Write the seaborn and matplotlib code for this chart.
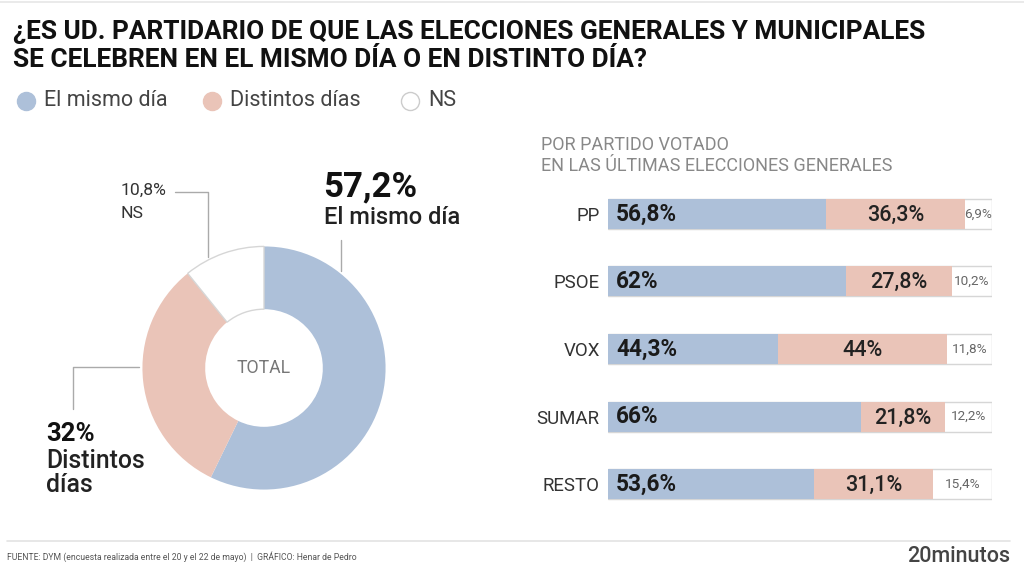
import numpy as np
import seaborn as sns
import matplotlib.pyplot as plt

# datos
total_labels = ["El mismo día", "Distintos días", "NS"]
total_values = [57.2, 32.0, 10.8]

partidos = ["PP", "PSOE", "VOX", "SUMAR", "RESTO"]
mismo_dia = [56.8, 62.0, 44.3, 66.0, 53.6]
distintos = [36.3, 27.8, 44.0, 21.8, 31.1]
ns = [6.9, 10.2, 11.8, 12.2, 15.4]

mismo_txt = ["56,8%", "62%", "44,3%", "66%", "53,6%"]
distintos_txt = ["36,3%", "27,8%", "44%", "21,8%", "31,1%"]
ns_txt = ["6,9%", "10,2%", "11,8%", "12,2%", "15,4%"]

AZUL = "#adc0d9"
ROSA = "#eac4b8"
GRIS_BORDE = "#d6d6d6"

sns.set_theme(style="white")
plt.rcParams["font.family"] = ["Roboto", "DejaVu Sans"]

W, H = 1024, 576
fig = plt.figure(figsize=(W / 100, H / 100), dpi=100)
fig.patch.set_facecolor("white")


def px(x, y):
    return x / W, 1 - y / H


def txt(x, y, s, **kw):
    fx, fy = px(x, y)
    fig.text(fx, fy, s, **kw)


def linea(xs, ys, color="#aaaaaa", lw=1.0):
    fig.add_artist(plt.Line2D([x / W for x in xs], [1 - y / H for y in ys],
                              color=color, lw=lw, transform=fig.transFigure))


# titulo
txt(13, 32, "¿ES UD. PARTIDARIO DE QUE LAS ELECCIONES GENERALES Y MUNICIPALES",
    fontsize=18.9, fontweight="bold", color="#111111", va="center")
txt(13, 60, "SE CELEBREN EN EL MISMO DÍA O EN DISTINTO DÍA?",
    fontsize=18.9, fontweight="bold", color="#111111", va="center")

# leyenda
leg = [(26, AZUL, "none", "El mismo día"), (212, ROSA, "none", "Distintos días"),
       (410, "white", "#cccccc", "NS")]
for x, c, ec, lab in leg:
    fx, fy = px(x, 101)
    fig.add_artist(plt.Line2D([fx], [fy], marker="o", markersize=13, color=c,
                              markeredgecolor=ec if ec != "none" else c,
                              markeredgewidth=1, transform=fig.transFigure))
    txt(x + 18, 101, lab, fontsize=15.5, color="#444444", va="center")

# donut
ax_pie = fig.add_axes([140 / W, (H - 492) / H, 248 / W, 248 / H])
wedges, _ = ax_pie.pie(total_values, colors=[AZUL, ROSA, "white"], startangle=90,
                       counterclock=False, radius=1,
                       wedgeprops=dict(width=1 - 60 / 124, edgecolor="none"))
wedges[2].set_edgecolor(GRIS_BORDE)
wedges[2].set_linewidth(1)
ax_pie.set_xlim(-1.02, 1.02)
ax_pie.set_ylim(-1.02, 1.02)
ax_pie.set_aspect("auto")
ax_pie.axis("off")
ax_pie.text(0, 0, "TOTAL", ha="center", va="center", fontsize=12.7, color="#777777")

# etiquetas donut
txt(323, 187, "57,2%", fontsize=25, fontweight="bold", color="#111111", va="center")
txt(324, 218, "El mismo día", fontsize=17, fontweight="medium", color="#222222", va="center")
linea([341, 341], [240, 271])

txt(121, 190, "10,8%", fontsize=12.6, color="#333333", va="center")
txt(121, 213, "NS", fontsize=12.6, color="#333333", va="center")
linea([175, 208, 208], [192, 192, 257])

txt(46, 434, "32%", fontsize=18.5, fontweight="bold", color="#111111", va="center")
txt(46, 461, "Distintos", fontsize=17.8, fontweight="medium", color="#222222", va="center")
txt(46, 485, "días", fontsize=17.8, fontweight="medium", color="#222222", va="center")
linea([73, 73, 139], [409, 367, 367])

# subtitulo barras
txt(541, 145, "POR PARTIDO VOTADO", fontsize=13, color="#888888", va="center")
txt(541, 166, "EN LAS ÚLTIMAS ELECCIONES GENERALES", fontsize=13, color="#888888", va="center")

# barras apiladas
ax = fig.add_axes([608 / W, (H - 518) / H, 384 / W, 338 / H])
cum2 = [a + b for a, b in zip(mismo_dia, distintos)]
cum3 = [a + b + c for a, b, c in zip(mismo_dia, distintos, ns)]
bw = 30 / 67.5
sns.barplot(x=cum3, y=partidos, orient="h", color="white", saturation=1,
            width=bw, edgecolor=GRIS_BORDE, linewidth=1, ax=ax)
sns.barplot(x=cum2, y=partidos, orient="h", color=ROSA, saturation=1,
            width=bw, linewidth=0, ax=ax)
sns.barplot(x=mismo_dia, y=partidos, orient="h", color=AZUL, saturation=1,
            width=bw, linewidth=0, ax=ax)
ax.set_xlim(0, 100.1)
ax.set_ylim(4.5, -0.5)
ax.set_xlabel("")
ax.set_ylabel("")
ax.set_xticks([])
ax.tick_params(axis="y", length=0, pad=6, labelsize=13.4, labelcolor="#333333")
for s in ax.spines.values():
    s.set_visible(False)
ax.set_facecolor("none")

for i in range(len(partidos)):
    ax.text(2.1, i, mismo_txt[i], ha="left", va="center", fontsize=16.3,
            fontweight="bold", color="#1a1a1a")
    ax.text(mismo_dia[i] + distintos[i] / 2, i + 0.02, distintos_txt[i], ha="center",
            va="center", fontsize=15.5, fontweight="medium", color="#222222")
    ax.text(cum2[i] + ns[i] / 2, i, ns_txt[i], ha="center", va="center",
            fontsize=9.7, color="#666666")

# pie de grafico
linea([7, 1010], [541, 541], color="#e3e3e3", lw=1.2)
linea([0, 1024], [2, 2], color="#e6e6e6", lw=1.2)
txt(7, 557, "FUENTE: DYM (encuesta realizada entre el 20 y el 22 de mayo)  |  GRÁFICO: Henar de Pedro",
    fontsize=6.2, color="#555555", va="center")
txt(1010, 556, "20minutos", fontsize=15.5, fontweight="medium", color="#444444",
    va="center", ha="right")

fig.savefig("out.png", dpi=100, facecolor="white")
